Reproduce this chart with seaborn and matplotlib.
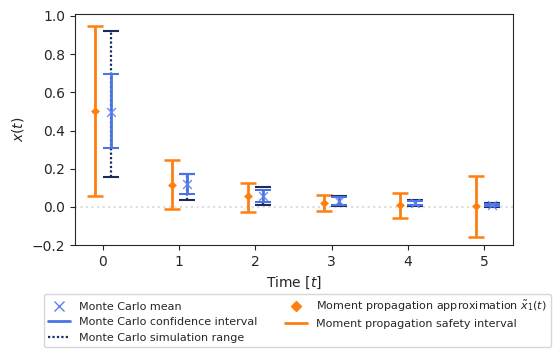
import numpy as np
import pandas as pd
import matplotlib
matplotlib.use('Agg')
import matplotlib.pyplot as plt
import seaborn as sns
from matplotlib.lines import Line2D

# Time steps
time = [0, 1, 2, 3, 4, 5]

# Monte Carlo results
mc_mean = [0.497, 0.122, 0.057, 0.029, 0.020, 0.009]
mc_ci_low = [0.307, 0.069, 0.025, 0.012, 0.008, 0.003]
mc_ci_high = [0.696, 0.170, 0.090, 0.050, 0.033, 0.016]
mc_range_low = [0.156, 0.034, 0.012, 0.005, 0.004, 0.002]
mc_range_high = [0.922, 0.174, 0.102, 0.058, 0.038, 0.021]

# Moment propagation results
mp_mean = [0.500, 0.117, 0.055, 0.023, 0.011, 0.006]
mp_low = [0.055, -0.010, -0.024, -0.020, -0.056, -0.156]
mp_high = [0.947, 0.247, 0.126, 0.064, 0.073, 0.164]

# Colours
orange = '#ff7f0e'
blue = '#4a74e6'
light_blue = '#5b82f0'
navy = '#1c2a5e'

sns.set_style('ticks')
plt.rcParams['font.family'] = ['DejaVu Sans']

df = pd.DataFrame({
    't': time,
    'mc_mean': mc_mean,
    'mp_mean': mp_mean,
})
shift = 0.1
df['t_mc'] = df['t'] + shift
df['t_mp'] = df['t'] - shift

fig, ax = plt.subplots(figsize=(5.54, 3.6), dpi=100)

# Reference line at zero
ax.axhline(0, color='#dddddd', linestyle=':', linewidth=1.5, zorder=0)

# Moment propagation safety interval
mp_err = [df['mp_mean'] - np.array(mp_low), np.array(mp_high) - df['mp_mean']]
ax.errorbar(df['t_mp'], df['mp_mean'], yerr=mp_err, fmt='none', ecolor=orange,
            elinewidth=2, capsize=6, capthick=1.8, zorder=2)
sns.scatterplot(data=df, x='t_mp', y='mp_mean', marker='D', color=orange,
                s=20, edgecolor=orange, linewidth=0, ax=ax, zorder=3)

# Monte Carlo simulation range (dotted)
rng_err = [df['mc_mean'] - np.array(mc_range_low), np.array(mc_range_high) - df['mc_mean']]
eb = ax.errorbar(df['t_mc'], df['mc_mean'], yerr=rng_err, fmt='none', ecolor=navy,
                 elinewidth=1.6, capsize=6, capthick=1.5, zorder=2)
eb[2][0].set_linestyle((0, (1, 1)))

# Monte Carlo confidence interval
ci_err = [df['mc_mean'] - np.array(mc_ci_low), np.array(mc_ci_high) - df['mc_mean']]
ax.errorbar(df['t_mc'], df['mc_mean'], yerr=ci_err, fmt='none', ecolor=blue,
            elinewidth=2, capsize=6, capthick=1.5, zorder=3)

# Monte Carlo mean
sns.scatterplot(data=df, x='t_mc', y='mc_mean', marker='x', color=light_blue,
                s=40, linewidth=1.0, alpha=0.9, ax=ax, zorder=4)

ax.set_xlabel('Time [$t$]')
ax.set_ylabel('$x(t)$')
ax.set_xticks(time)
ax.set_xlim(-0.37, 5.38)
ax.set_ylim(-0.2, 1.01)
ax.set_yticks([-0.2, 0.0, 0.2, 0.4, 0.6, 0.8, 1.0])

handles = [
    Line2D([], [], marker='x', color=light_blue, linestyle='none', markersize=7),
    Line2D([], [], color=blue, linewidth=2),
    Line2D([], [], color=navy, linewidth=1.6, linestyle=(0, (1, 1))),
    Line2D([], [], marker='D', color=orange, linestyle='none', markersize=5),
    Line2D([], [], color=orange, linewidth=2),
]
labels = [
    'Monte Carlo mean',
    'Monte Carlo confidence interval',
    'Monte Carlo simulation range',
    r'Moment propagation approximation $\tilde{x}_1(t)$',
    'Moment propagation safety interval',
]
fig.legend(handles, labels, loc='lower center', bbox_to_anchor=(0.537, 0.02),
           ncol=2, fontsize=8, frameon=True, columnspacing=2.5)

fig.subplots_adjust(left=0.135, right=0.926, top=0.961, bottom=0.319)
fig.savefig('out.png', dpi=100)
